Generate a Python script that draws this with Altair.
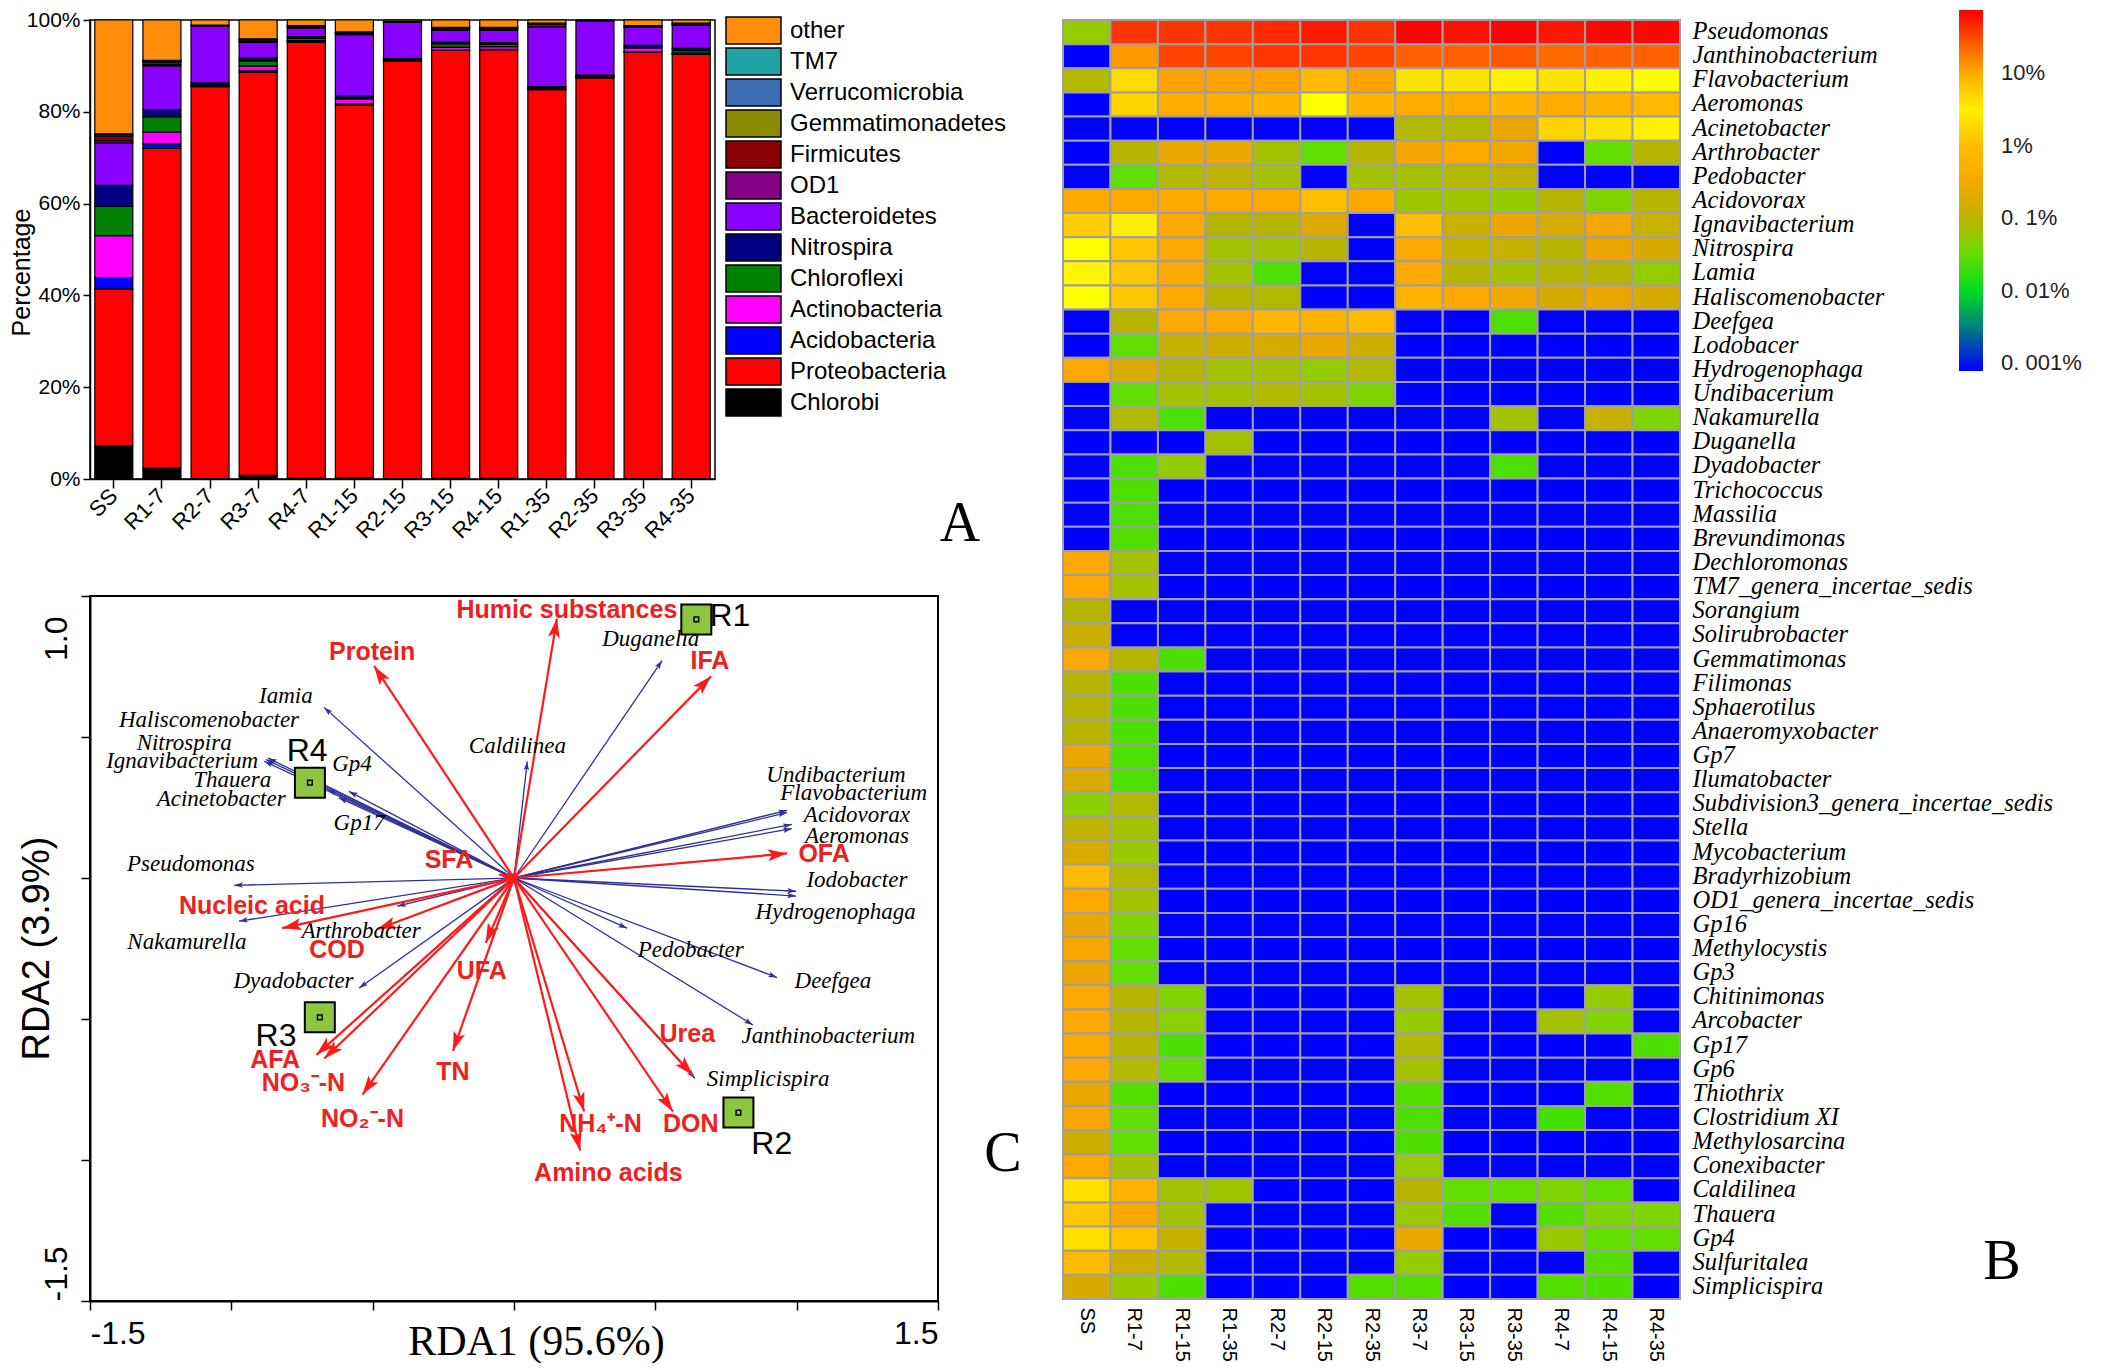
import altair as alt
import pandas as pd

SANS = "Liberation Sans"
SERIF = "Liberation Serif"

# ---------------- Panel A : phylum composition ----------------
samples_a = ["SS", "R1-7", "R2-7", "R3-7", "R4-7", "R1-15", "R2-15", "R3-15",
             "R4-15", "R1-35", "R2-35", "R3-35", "R4-35"]
phyla_legend = ["other", "TM7", "Verrucomicrobia", "Gemmatimonadetes", "Firmicutes",
                "OD1", "Bacteroidetes", "Nitrospira", "Chloroflexi", "Actinobacteria",
                "Acidobacteria", "Proteobacteria", "Chlorobi"]
phyla_colors = ["#ff8c0a", "#22a3a3", "#3a6db3", "#8c8a00", "#8b0000", "#850085",
                "#8a00ff", "#000080", "#008000", "#ff00ff", "#0000ff", "#ff0000", "#000000"]

chlorobi = [7.3, 2.4, 0.1, 0.8, 0.2, 0.3, 0.1, 0.2, 0.2, 0.1, 0.1, 0.1, 0.1]
proteobacteria = [34.1, 69.6, 85.4, 87.8, 95.0, 81.2, 90.9, 93.2, 93.3, 84.7, 87.3, 92.9, 92.4]
acidobacteria = [2.5, 1.0, 0.1, 0.3, 0.1, 0.3, 0.1, 0.1, 0.1, 0.1, 0.1, 0.1, 0.1]
actinobacteria = [9.1, 2.6, 0.1, 1.1, 0.2, 1.0, 0.1, 0.6, 0.6, 0.2, 0.1, 0.8, 0.2]
chloroflexi = [6.4, 3.3, 0.1, 1.1, 0.5, 0.2, 0.1, 0.7, 0.5, 0.1, 0.1, 0.2, 0.5]
nitrospira = [4.6, 1.6, 0.5, 0.6, 0.4, 0.5, 0.3, 0.4, 0.4, 0.3, 0.3, 0.4, 0.5]
bacteroidetes = [9.2, 9.5, 12.4, 3.4, 1.9, 13.3, 7.9, 2.6, 2.7, 13.0, 11.8, 3.9, 5.0]
od1 = [0.5, 0.3, 0.1, 0.2, 0.2, 0.2, 0.1, 0.3, 0.3, 0.6, 0.1, 0.2, 0.2]
firmicutes = [1.0, 0.5, 0.1, 0.3, 0.2, 0.2, 0.1, 0.2, 0.2, 0.2, 0.1, 0.2, 0.2]
gemmatimonadetes = [0.3, 0.2, 0.0, 0.1, 0.1, 0.1, 0.0, 0.1, 0.1, 0.0, 0.0, 0.0, 0.1]
verrucomicrobia = [0.2, 0.1, 0.0, 0.1, 0.0, 0.1, 0.0, 0.0, 0.0, 0.0, 0.0, 0.0, 0.0]
tm7 = [0.0, 0.1, 0.0, 0.1, 0.0, 0.0, 0.0, 0.0, 0.0, 0.0, 0.0, 0.0, 0.0]
other = [24.8, 8.8, 1.1, 4.1, 1.2, 2.6, 0.3, 1.6, 1.6, 0.7, 0.0, 1.2, 0.7]

stack_series = [("Chlorobi", chlorobi), ("Proteobacteria", proteobacteria),
                ("Acidobacteria", acidobacteria), ("Actinobacteria", actinobacteria),
                ("Chloroflexi", chloroflexi), ("Nitrospira", nitrospira),
                ("Bacteroidetes", bacteroidetes), ("OD1", od1), ("Firmicutes", firmicutes),
                ("Gemmatimonadetes", gemmatimonadetes), ("Verrucomicrobia", verrucomicrobia),
                ("TM7", tm7), ("other", other)]

rows_a = []
for k, (ph, vals) in enumerate(stack_series):
    for s, v in zip(samples_a, vals):
        rows_a.append({"sample": s, "phylum": ph, "pct": v, "k": k})
df_a = pd.DataFrame(rows_a)

# ---------------- Panel B : genus heat map ----------------
samples_b = ["SS", "R1-7", "R1-15", "R1-35", "R2-7", "R2-15", "R2-35", "R3-7",
             "R3-15", "R3-35", "R4-7", "R4-15", "R4-35"]
genera = ["Pseudomonas", "Janthinobacterium", "Flavobacterium", "Aeromonas", "Acinetobacter",
          "Arthrobacter", "Pedobacter", "Acidovorax", "Ignavibacterium", "Nitrospira", "Lamia",
          "Haliscomenobacter", "Deefgea", "Lodobacer", "Hydrogenophaga", "Undibacerium",
          "Nakamurella", "Duganella", "Dyadobacter", "Trichococcus", "Massilia", "Brevundimonas",
          "Dechloromonas", "TM7_genera_incertae_sedis", "Sorangium", "Solirubrobacter",
          "Gemmatimonas", "Filimonas", "Sphaerotilus", "Anaeromyxobacter", "Gp7", "Ilumatobacter",
          "Subdivision3_genera_incertae_sedis", "Stella", "Mycobacterium", "Bradyrhizobium",
          "OD1_genera_incertae_sedis", "Gp16", "Methylocystis", "Gp3", "Chitinimonas",
          "Arcobacter", "Gp17", "Gp6", "Thiothrix", "Clostridium XI", "Methylosarcina",
          "Conexibacter", "Caldilinea", "Thauera", "Gp4", "Sulfuritalea", "Simplicispira"]
# relative abundance (%) per genus, columns in samples_b order (0 = not detected)
abundance = [
    [0.05, 40, 40, 40, 45, 55, 40, 72, 62, 72, 58, 68, 68],
    [0, 12, 33, 33, 40, 40, 33, 24, 24, 27, 22, 24, 24],
    [0.08, 6, 11, 11, 11, 8.5, 11, 5.6, 5.6, 4.8, 5.6, 4.8, 4.2],
    [0, 6.5, 10, 10, 9, 4.2, 9, 10, 10, 9, 10, 9, 8.5],
    [0, 0, 0, 0, 0, 0, 0, 0.08, 0.08, 0.2, 6.5, 5.6, 4.8],
    [0, 0.09, 0.2, 0.2, 0.065, 0.03, 0.09, 0.3, 0.45, 0.3, 0, 0.03, 0.09],
    [0, 0.03, 0.08, 0.1, 0.065, 0, 0.065, 0.065, 0.08, 0.1, 0, 0, 0],
    [0.45, 0.45, 0.45, 0.45, 0.45, 1.0, 0.45, 0.06, 0.06, 0.05, 0.09, 0.04, 0.09],
    [7, 3, 0.5, 0.09, 0.09, 0.15, 0, 1.0, 0.11, 0.2, 0.14, 0.3, 0.11],
    [4.2, 1.4, 0.45, 0.065, 0.065, 0.09, 0, 0.5, 0.11, 0.11, 0.09, 0.2, 0.14],
    [3.5, 1.4, 0.5, 0.065, 0.024, 0, 0, 0.5, 0.09, 0.065, 0.09, 0.09, 0.05],
    [4.2, 1.4, 0.5, 0.09, 0.08, 0, 0, 0.7, 0.45, 0.3, 0.14, 0.2, 0.14],
    [0, 0.09, 0.45, 0.5, 0.8, 0.7, 0.9, 0, 0, 0.024, 0, 0, 0],
    [0, 0.03, 0.11, 0.12, 0.14, 0.2, 0.12, 0, 0, 0, 0, 0, 0],
    [0.45, 0.14, 0.09, 0.065, 0.065, 0.05, 0.08, 0, 0, 0, 0, 0, 0],
    [0, 0.03, 0.065, 0.065, 0.08, 0.065, 0.04, 0, 0, 0, 0, 0, 0],
    [0, 0.08, 0.024, 0, 0, 0, 0, 0, 0, 0.065, 0, 0.11, 0.04],
    [0, 0, 0, 0.065, 0, 0, 0, 0, 0, 0, 0, 0, 0],
    [0, 0.024, 0.05, 0, 0, 0, 0, 0, 0, 0.024, 0, 0, 0],
    [0, 0.024, 0, 0, 0, 0, 0, 0, 0, 0, 0, 0, 0],
    [0, 0.024, 0, 0, 0, 0, 0, 0, 0, 0, 0, 0, 0],
    [0, 0.026, 0, 0, 0, 0, 0, 0, 0, 0, 0, 0, 0],
    [0.45, 0.065, 0, 0, 0, 0, 0, 0, 0, 0, 0, 0, 0],
    [0.45, 0.065, 0, 0, 0, 0, 0, 0, 0, 0, 0, 0, 0],
    [0.09, 0, 0, 0, 0, 0, 0, 0, 0, 0, 0, 0, 0],
    [0.12, 0, 0, 0, 0, 0, 0, 0, 0, 0, 0, 0, 0],
    [0.45, 0.09, 0.024, 0, 0, 0, 0, 0, 0, 0, 0, 0, 0],
    [0.09, 0.024, 0, 0, 0, 0, 0, 0, 0, 0, 0, 0, 0],
    [0.09, 0.024, 0, 0, 0, 0, 0, 0, 0, 0, 0, 0, 0],
    [0.09, 0.024, 0, 0, 0, 0, 0, 0, 0, 0, 0, 0, 0],
    [0.2, 0.024, 0, 0, 0, 0, 0, 0, 0, 0, 0, 0, 0],
    [0.14, 0.024, 0, 0, 0, 0, 0, 0, 0, 0, 0, 0, 0],
    [0.045, 0.08, 0, 0, 0, 0, 0, 0, 0, 0, 0, 0, 0],
    [0.1, 0.065, 0, 0, 0, 0, 0, 0, 0, 0, 0, 0, 0],
    [0.14, 0.055, 0, 0, 0, 0, 0, 0, 0, 0, 0, 0, 0],
    [0.9, 0.08, 0, 0, 0, 0, 0, 0, 0, 0, 0, 0, 0],
    [0.45, 0.065, 0, 0, 0, 0, 0, 0, 0, 0, 0, 0, 0],
    [0.2, 0.04, 0, 0, 0, 0, 0, 0, 0, 0, 0, 0, 0],
    [0.35, 0.03, 0, 0, 0, 0, 0, 0, 0, 0, 0, 0, 0],
    [0.2, 0.03, 0, 0, 0, 0, 0, 0, 0, 0, 0, 0, 0],
    [0.5, 0.09, 0.04, 0, 0, 0, 0, 0.065, 0, 0, 0, 0.05, 0],
    [0.5, 0.09, 0.045, 0, 0, 0, 0, 0.05, 0, 0, 0.065, 0.04, 0],
    [0.5, 0.09, 0.024, 0, 0, 0, 0, 0.08, 0, 0, 0, 0, 0.024],
    [0.5, 0.08, 0.03, 0, 0, 0, 0, 0.065, 0, 0, 0, 0, 0],
    [0.2, 0.026, 0, 0, 0, 0, 0, 0.026, 0, 0, 0, 0.026, 0],
    [0.35, 0.03, 0, 0, 0, 0, 0, 0.024, 0, 0, 0.022, 0, 0],
    [0.12, 0.03, 0, 0, 0, 0, 0, 0.024, 0, 0, 0, 0, 0],
    [0.45, 0.065, 0, 0, 0, 0, 0, 0.05, 0, 0, 0, 0, 0],
    [2.2, 0.7, 0.065, 0.06, 0, 0, 0, 0.09, 0.03, 0.03, 0.04, 0.03, 0],
    [1.4, 0.4, 0.065, 0, 0, 0, 0, 0.055, 0.026, 0, 0.026, 0.04, 0.04],
    [2.2, 1.2, 0.11, 0, 0, 0, 0, 0.2, 0, 0, 0.055, 0.03, 0.03],
    [0.9, 0.12, 0.08, 0, 0, 0, 0, 0.05, 0, 0, 0, 0.026, 0],
    [0.14, 0.055, 0.024, 0, 0, 0, 0.026, 0.026, 0, 0, 0.026, 0.024, 0],
]
rows_b = []
for g, vals in zip(genera, abundance):
    for s, v in zip(samples_b, vals):
        rows_b.append({"genus": g, "sample": s, "pct": v})
df_b = pd.DataFrame(rows_b)

# colour bar: log10(%) positions and colours
cbar_lv = [-3.11, -2.7, -2.37, -2.0, -1.68, -1.5, -1.32, -1.04, -0.76, -0.3, 0.16,
           0.62, 0.85, 1.08, 1.31, 1.54, 1.87]
cbar_colors = ["#0000ff", "#0050b0", "#00a060", "#00dd20", "#40e000", "#66dd00", "#90cc00",
               "#b8b400", "#e8a600", "#ffa800", "#ffc800", "#ffff00", "#ffcc00", "#ff9900",
               "#ff7000", "#ff4000", "#ff0000"]
cbar_ticks = [1, 0, -1, -2, -3]

# ---------------- Panel C : RDA biplot ----------------
env_names = ["Humic substances", "Protein", "IFA", "OFA", "SFA", "Nucleic acid", "COD", "UFA",
             "AFA", "NO\u2083\u207b-N", "NO\u2082\u207b-N", "TN", "NH\u2084\u207a-N",
             "Amino acids", "DON", "Urea"]
env_x = [0.152, -0.495, 0.697, 0.966, -0.053, -0.82, -0.484, -0.10, -0.699, -0.671, -0.536,
         -0.216, 0.248, 0.234, 0.562, 0.632]
env_y = [0.92, 0.752, 0.715, 0.087, 0.013, -0.178, -0.182, -0.23, -0.627, -0.64, -0.768,
         -0.613, -0.828, -0.966, -0.828, -0.699]
env_lx = [0.187, -0.502, 0.693, 1.097, -0.23, -0.927, -0.626, -0.114, -0.845, -0.745, -0.536,
          -0.216, 0.306, 0.334, 0.625, 0.613]
env_ly = [0.952, 0.803, 0.768, 0.084, 0.063, -0.10, -0.256, -0.329, -0.646, -0.726, -0.856,
          -0.689, -0.874, -1.046, -0.874, -0.554]

sp_names = ["Duganella", "Caldilinea", "Iamia", "Haliscomenobacter", "Nitrospira",
            "Ignavibacterium", "Thauera", "Acinetobacter", "Gp4", "Gp17", "Pseudomonas",
            "Nakamurella", "Arthrobacter", "Dyadobacter", "Undibacterium", "Flavobacterium",
            "Acidovorax", "Aeromonas", "Iodobacter", "Hydrogenophaga", "Pedobacter", "Deefgea",
            "Janthinobacterium", "Simplicispira"]
sp_x = [0.524, 0.047, -0.672, -0.87, -0.877, -0.884, -0.70, -0.66, -0.584, -0.62, -0.99,
        -0.973, -0.413, -0.548, 0.966, 0.966, 0.983, 0.983, 0.998, 0.998, 0.40, 0.931, 0.845,
        0.64]
sp_y = [0.771, 0.413, 0.605, 0.425, 0.42, 0.414, 0.345, 0.315, 0.307, 0.285, -0.026, -0.153,
        -0.10, -0.39, 0.24, 0.232, 0.19, 0.175, -0.047, -0.064, -0.178, -0.353, -0.521, -0.71]
sp_lx = [0.484, 0.012, -0.807, -1.079, -1.167, -1.174, -0.997, -1.036, -0.573, -0.548, -1.143,
         -1.157, -0.541, -0.78, 1.139, 1.202, 1.213, 1.213, 1.213, 1.138, 0.625, 1.128, 1.112,
         0.899]
sp_ly = [0.846, 0.467, 0.647, 0.562, 0.48, 0.414, 0.346, 0.279, 0.403, 0.194, 0.049, -0.228,
         -0.189, -0.366, 0.367, 0.301, 0.224, 0.149, -0.006, -0.12, -0.254, -0.366, -0.561,
         -0.713]

grp_names = ["R1", "R2", "R3", "R4"]
grp_x = [0.645, 0.794, -0.687, -0.722]
grp_y = [0.917, -0.832, -0.494, 0.338]
grp_lx = [0.764, 0.912, -0.842, -0.732]
grp_ly = [0.928, -0.945, -0.562, 0.45]

df_env = pd.DataFrame({"name": env_names, "u": env_x, "v": env_y, "lu": env_lx, "lv": env_ly})
df_sp = pd.DataFrame({"name": sp_names, "u": sp_x, "v": sp_y, "lu": sp_lx, "lv": sp_ly})
df_grp = pd.DataFrame({"name": grp_names, "u": grp_x, "v": grp_y, "lu": grp_lx, "lv": grp_ly})

# ================= build panel A =================
A_W, A_H = 625, 459
legend_symbol = "M-2,-0.98L2,-0.98L2,0.98L-2,0.98Z"

bars = alt.Chart(df_a).transform_filter("datum.pct > 0").mark_bar(
    stroke="black", strokeWidth=1.2
).encode(
    x=alt.X("sample:N", sort=samples_a, title=None,
            scale=alt.Scale(paddingInner=0.21, paddingOuter=0.1),
            axis=alt.Axis(labelAngle=-45, labelAlign="right", labelBaseline="middle",
                          labelFont=SANS, labelFontSize=22, labelPadding=4, tickSize=9,
                          tickWidth=1.5, domainWidth=1.5)),
    y=alt.Y("pct:Q", stack="zero", scale=alt.Scale(domain=[0, 100], nice=False),
            axis=alt.Axis(values=[0, 20, 40, 60, 80, 100], labelExpr="datum.value + '%'",
                          labelFont=SANS, labelFontSize=21, tickSize=7, tickWidth=1.5,
                          domainWidth=1.5, labelPadding=3, title="Percentage",
                          titleFont=SANS, titleFontSize=25, titleFontWeight="normal",
                          titleAngle=-90, titleX=-69, titleY=252, titleAlign="center",
                          titleBaseline="middle")),
    color=alt.Color("phylum:N", scale=alt.Scale(domain=phyla_legend, range=phyla_colors),
                    legend=alt.Legend(title=None, orient="none", legendX=649, legendY=-4,
                                      padding=0, symbolType=legend_symbol, symbolSize=756,
                                      symbolStrokeColor="black", symbolStrokeWidth=1.5,
                                      symbolOpacity=1, labelFont=SANS, labelFontSize=24,
                                      labelOffset=22, rowPadding=-2.4, labelColor="black",
                                      labelLimit=400)),
    order=alt.Order("k:Q", sort="ascending"),
)
letter_a = alt.Chart(pd.DataFrame({"t": ["A"]})).mark_text(
    font=SERIF, fontSize=56, align="center", baseline="middle", color="black"
).encode(text="t:N", x=alt.value(870), y=alt.value(504))

chart_a = alt.layer(bars, letter_a).properties(
    width=A_W, height=A_H, view=alt.ViewBackground(stroke="black", strokeWidth=1.5))

# ================= build panel C =================
C_W, C_H = 848, 705
xs = alt.Scale(domain=[-1.5, 1.5], nice=False, zero=False)
ys = alt.Scale(domain=[-1.5, 1.0], nice=False, zero=False)
x_axis = alt.Axis(values=[-1.5, -1, -0.5, 0, 0.5, 1, 1.5],
                  labelExpr="datum.value == -1.5 ? '-1.5' : (datum.value == 1.5 ? '1.5' : '')",
                  labelFlush=True, labelFont=SANS, labelFontSize=32, labelPadding=8,
                  tickSize=9, tickWidth=1.5, domainWidth=2, grid=False,
                  title="RDA1 (95.6%)", titleFont=SERIF, titleFontSize=42,
                  titleFontWeight="normal", titleX=446, titleY=40, titleAlign="center",
                  titleBaseline="middle")
y_axis = alt.Axis(values=[-1.5, -1, -0.5, 0, 0.5, 1],
                  labelExpr="datum.value == 1 ? '1.0' : (datum.value == -1.5 ? '-1.5' : '')",
                  labelAngle=-90, labelBaseline="bottom",
                  labelAlign={"condition": {"test": "datum.value < 0", "value": "left"},
                              "value": "right"},
                  labelOffset={"condition": {"test": "datum.value == 1", "value": 20},
                               "value": 0},
                  labelFont=SANS, labelFontSize=32, labelPadding=8, tickSize=9,
                  tickWidth=1.5, domainWidth=2, grid=False,
                  title="RDA2 (3.9%)", titleFont=SANS, titleFontSize=38,
                  titleFontWeight="normal", titleAngle=-90, titleX=-53, titleY=352,
                  titleAlign="center", titleBaseline="middle")


def X(f):
    return alt.X(f, type="quantitative", scale=xs, axis=x_axis)


def Y(f):
    return alt.Y(f, type="quantitative", scale=ys, axis=y_axis)


head_path = "M0,0L0.5,1.6L0,1.25L-0.5,1.6Z"
ang_expr = "(atan2(datum.u, datum.v) * 180 / PI + 360) % 360"
BLUE = "#30309a"
RED = "#ff1a1a"
RED_TXT = "#ee2020"

sp_lines = alt.Chart(df_sp).transform_calculate(o="0").mark_rule(
    color=BLUE, strokeWidth=1.3).encode(x=X("o"), y=Y("o"), x2="u:Q", y2="v:Q")
sp_heads = alt.Chart(df_sp).transform_calculate(ang=ang_expr).mark_point(
    shape=head_path, filled=True, size=121, color=BLUE, opacity=1
).encode(x=X("u"), y=Y("v"), angle=alt.Angle("ang:Q", scale=None))
env_lines = alt.Chart(df_env).transform_calculate(o="0").mark_rule(
    color=RED, strokeWidth=2.2).encode(x=X("o"), y=Y("o"), x2="u:Q", y2="v:Q")
env_heads = alt.Chart(df_env).transform_calculate(ang=ang_expr).mark_point(
    shape=head_path, filled=True, size=576, color=RED, opacity=1
).encode(x=X("u"), y=Y("v"), angle=alt.Angle("ang:Q", scale=None))
sp_text = alt.Chart(df_sp).mark_text(
    font=SERIF, fontStyle="italic", fontSize=23, color="black", baseline="middle"
).encode(x=X("lu"), y=Y("lv"), text="name:N")
env_text = alt.Chart(df_env).mark_text(
    font=SANS, fontWeight="bold", fontSize=25, color=RED_TXT, baseline="middle"
).encode(x=X("lu"), y=Y("lv"), text="name:N")
grp_box = alt.Chart(df_grp).mark_point(
    shape="square", size=900, filled=True, fill="#8dc63f", stroke="black", strokeWidth=2,
    opacity=1
).encode(x=X("u"), y=Y("v"))
grp_dot = alt.Chart(df_grp).mark_point(
    shape="square", size=22, filled=False, stroke="black", strokeWidth=1.5, opacity=1
).encode(x=X("u"), y=Y("v"))
grp_text = alt.Chart(df_grp).mark_text(
    font=SANS, fontSize=32, color="black", baseline="middle"
).encode(x=X("lu"), y=Y("lv"), text="name:N")
letter_c = alt.Chart(pd.DataFrame({"t": ["C"]})).mark_text(
    font=SERIF, fontSize=56, align="center", baseline="middle", color="black"
).encode(text="t:N", x=alt.value(913), y=alt.value(558))

chart_c = alt.layer(sp_lines, sp_heads, env_lines, env_heads, sp_text, env_text,
                    grp_box, grp_dot, grp_text, letter_c).properties(
    width=C_W, height=C_H, view=alt.ViewBackground(stroke="black", strokeWidth=2))

# ================= build panel B =================
B_W, B_H = 617, 1279
legend_label = ("datum.value == 1 ? '10%' : datum.value == 0 ? '1%' : "
                "datum.value == -1 ? '0. 1%' : datum.value == -2 ? '0. 01%' : '0. 001%'")
heat = alt.Chart(df_b).transform_calculate(
    lv="datum.pct > 0 ? log(datum.pct) / LN10 : -3.2"
).mark_rect(stroke="#a0a0a0", strokeWidth=2).encode(
    x=alt.X("sample:N", sort=samples_b, title=None, scale=alt.Scale(padding=0),
            axis=alt.Axis(orient="bottom", labelAngle=90, labelAlign="left",
                          labelBaseline="middle", labelFont=SANS, labelFontSize=20,
                          labelPadding=8, ticks=False, domain=False)),
    y=alt.Y("genus:N", sort=genera, title=None, scale=alt.Scale(padding=0),
            axis=alt.Axis(orient="right", labelFont=SERIF, labelFontStyle="italic",
                          labelFontSize=24.5, labelPadding=12, ticks=False, domain=False,
                          labelLimit=600)),
    color=alt.Color("lv:Q",
                    scale=alt.Scale(domain=cbar_lv, range=cbar_colors, clamp=True,
                                    interpolate="rgb"),
                    legend=alt.Legend(title=None, orient="none", legendX=896, legendY=-10,
                                      direction="vertical", gradientLength=361,
                                      gradientThickness=24, gradientStrokeWidth=0,
                                      values=cbar_ticks, labelExpr=legend_label,
                                      labelFont=SANS, labelFontSize=22, labelOffset=18,
                                      labelColor="#222222", labelOverlap=False, padding=0)),
)
letter_b = alt.Chart(pd.DataFrame({"t": ["B"]})).mark_text(
    font=SERIF, fontSize=56, align="center", baseline="middle", color="black"
).encode(text="t:N", x=alt.value(939), y=alt.value(1242))

chart_b = alt.layer(heat, letter_b).properties(width=B_W, height=B_H)

left = alt.vconcat(chart_a, chart_c, spacing=117, bounds="flush")
chart = alt.hconcat(left, chart_b, spacing=973, bounds="flush").properties(
    padding=0, background="white"
).configure_view(stroke="transparent").configure_axis(
    grid=False, labelColor="black", titleColor="black", domainColor="black", tickColor="black"
)

chart.save("out.html", embed_options={"renderer": "svg", "actions": False})
